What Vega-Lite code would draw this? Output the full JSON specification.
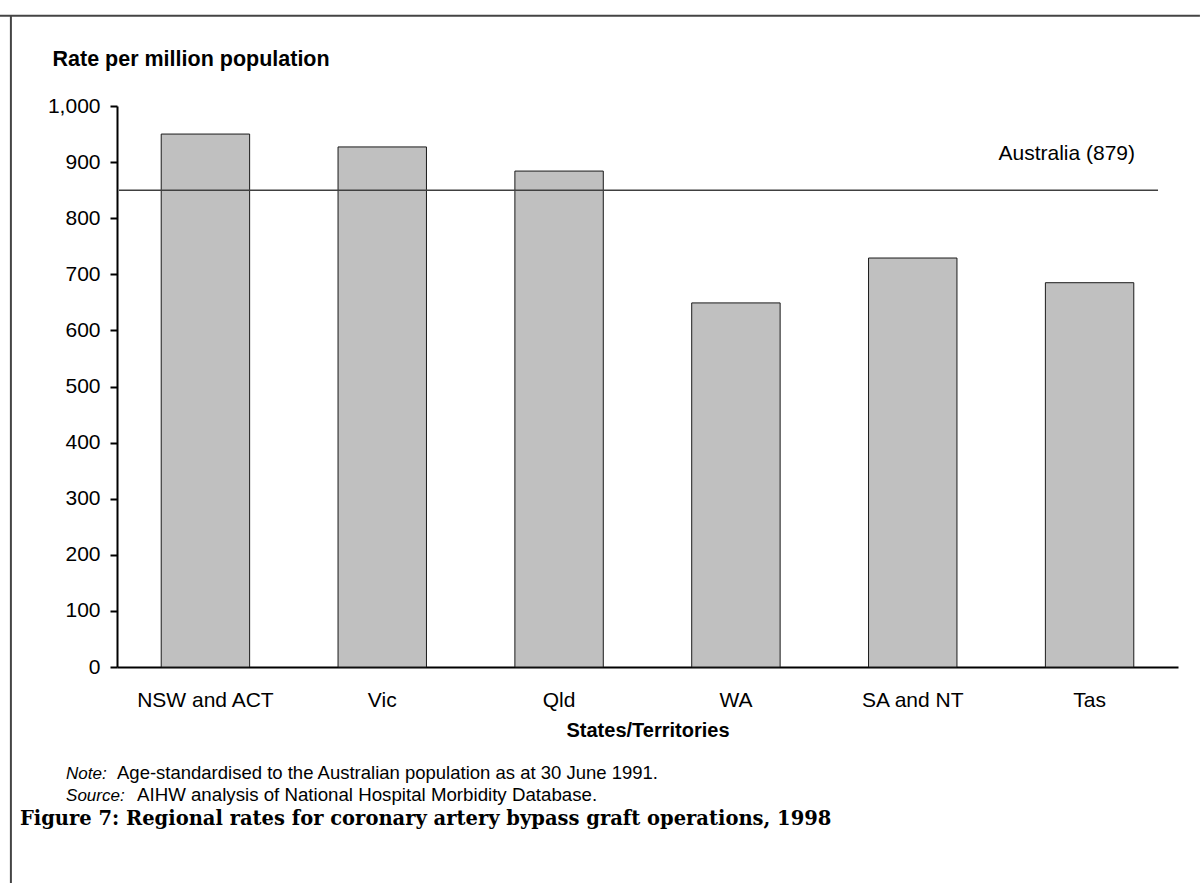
{
  "$schema": "https://vega.github.io/schema/vega-lite/v6.json",
  "width": 1061,
  "height": 561,
  "autosize": "none",
  "padding": {"left": 117, "top": 106, "right": 22, "bottom": 216},
  "background": "white",
  "config": {"view": {"stroke": null}, "font": "Liberation Sans"},
  "datasets": {
    "states": [
      {"state": "NSW and ACT", "rate": 950},
      {"state": "Vic", "rate": 927},
      {"state": "Qld", "rate": 884},
      {"state": "WA", "rate": 649},
      {"state": "SA and NT", "rate": 729},
      {"state": "Tas", "rate": 685}
    ],
    "national": [
      {"label": "Australia (879)", "rate": 850}
    ]
  },
  "resolve": {"scale": {"x": "independent"}},
  "layer": [
    {
      "data": {"name": "states"},
      "mark": {"type": "bar", "fill": "#c0c0c0", "stroke": "#1a1a1a", "strokeWidth": 1},
      "encoding": {
        "x": {
          "field": "state", "type": "nominal",
          "sort": ["NSW and ACT", "Vic", "Qld", "WA", "SA and NT", "Tas"],
          "scale": {"paddingInner": 0.5, "paddingOuter": 0.25},
          "axis": {
            "title": "States/Territories",
            "titleFont": "Liberation Sans", "titleFontSize": 20, "titleFontWeight": "bold", "titleColor": "#000",
            "titleBaseline": "alphabetic", "titleY": 69,
            "labelAngle": 0, "labelFontSize": 21, "labelColor": "#000", "labelPadding": 39, "labelBaseline": "alphabetic",
            "ticks": false, "tickSize": 0,
            "domainColor": "#000", "domainWidth": 2, "grid": false
          }
        },
        "y": {
          "field": "rate", "type": "quantitative",
          "scale": {"domain": [0, 1000], "nice": false, "zero": true},
          "axis": {
            "title": "Rate per million population",
            "titleAngle": 0, "titleAlign": "left", "titleBaseline": "alphabetic",
            "titleX": -65, "titleY": -41,
            "titleFontSize": 21.5, "titleFontWeight": "bold", "titleColor": "#000",
            "values": [0, 100, 200, 300, 400, 500, 600, 700, 800, 900, 1000],
            "format": ",d",
            "labelFontSize": 21, "labelColor": "#000", "labelPadding": 10,
            "tickSize": 7, "tickColor": "#000", "tickWidth": 2,
            "domainColor": "#000", "domainWidth": 2, "grid": false
          }
        }
      }
    },
    {
      "data": {"name": "national"},
      "mark": {"type": "rule", "color": "#404040", "strokeWidth": 1.5},
      "encoding": {
        "x": {"datum": 0.011, "type": "quantitative", "scale": {"domain": [0, 6], "nice": false, "zero": false}, "axis": null},
        "x2": {"datum": 5.887},
        "y": {"field": "rate", "type": "quantitative", "scale": {"domain": [0, 1000], "nice": false}}
      }
    },
    {
      "data": {"name": "national"},
      "mark": {"type": "text", "align": "right", "baseline": "alphabetic", "fontSize": 21, "color": "#000"},
      "encoding": {
        "x": {"datum": 5.757, "type": "quantitative", "scale": {"domain": [0, 6], "nice": false, "zero": false}, "axis": null},
        "y": {"datum": 903, "type": "quantitative", "scale": {"domain": [0, 1000], "nice": false}},
        "text": {"field": "label"}
      }
    },
    {
      "data": {"values": [{"lead": "Note:", "body": "Age-standardised to the Australian population as at 30 June 1991."}]},
      "layer": [
        {
          "mark": {"type": "text", "align": "left", "baseline": "alphabetic", "fontSize": 17, "fontStyle": "italic", "color": "#000", "clip": false},
          "encoding": {
            "x": {"datum": -0.288, "type": "quantitative", "scale": {"domain": [0, 6], "nice": false, "zero": false}, "axis": null},
            "y": {"datum": -199, "type": "quantitative", "scale": {"domain": [0, 1000], "nice": false}},
            "text": {"field": "lead"}
          }
        },
        {
          "mark": {"type": "text", "align": "left", "baseline": "alphabetic", "fontSize": 18.5, "color": "#000", "clip": false},
          "encoding": {
            "x": {"datum": 0, "type": "quantitative", "scale": {"domain": [0, 6], "nice": false, "zero": false}, "axis": null},
            "y": {"datum": -199, "type": "quantitative", "scale": {"domain": [0, 1000], "nice": false}},
            "text": {"field": "body"}
          }
        }
      ],
      "resolve": {"scale": {"x": "independent"}}
    },
    {
      "data": {"values": [{"lead": "Source:", "body": "AIHW analysis of National Hospital Morbidity Database."}]},
      "layer": [
        {
          "mark": {"type": "text", "align": "left", "baseline": "alphabetic", "fontSize": 17, "fontStyle": "italic", "color": "#000", "clip": false},
          "encoding": {
            "x": {"datum": -0.288, "type": "quantitative", "scale": {"domain": [0, 6], "nice": false, "zero": false}, "axis": null},
            "y": {"datum": -238, "type": "quantitative", "scale": {"domain": [0, 1000], "nice": false}},
            "text": {"field": "lead"}
          }
        },
        {
          "mark": {"type": "text", "align": "left", "baseline": "alphabetic", "fontSize": 18.7, "color": "#000", "clip": false},
          "encoding": {
            "x": {"datum": 0.113, "type": "quantitative", "scale": {"domain": [0, 6], "nice": false, "zero": false}, "axis": null},
            "y": {"datum": -238, "type": "quantitative", "scale": {"domain": [0, 1000], "nice": false}},
            "text": {"field": "body"}
          }
        }
      ],
      "resolve": {"scale": {"x": "independent"}}
    },
    {
      "data": {"values": [{"caption": "Figure 7: Regional rates for coronary artery bypass graft operations, 1998"}]},
      "mark": {"type": "text", "align": "left", "baseline": "alphabetic", "font": "DejaVu Serif", "fontWeight": "bold", "fontSize": 19.5, "color": "#000", "clip": false},
      "encoding": {
        "x": {"datum": -0.549, "type": "quantitative", "scale": {"domain": [0, 6], "nice": false, "zero": false}, "axis": null},
        "y": {"datum": -281, "type": "quantitative", "scale": {"domain": [0, 1000], "nice": false}},
        "text": {"field": "caption"}
      }
    },
    {
      "data": {"values": [{"edge": "top"}]},
      "mark": {"type": "rule", "color": "#444", "strokeWidth": 2, "clip": false},
      "encoding": {
        "x": {"datum": -0.662, "type": "quantitative", "scale": {"domain": [0, 6], "nice": false, "zero": false}, "axis": null},
        "x2": {"datum": 6.124},
        "y": {"datum": 1161, "type": "quantitative", "scale": {"domain": [0, 1000], "nice": false}}
      }
    },
    {
      "data": {"values": [{"edge": "left"}]},
      "mark": {"type": "rule", "color": "#444", "strokeWidth": 2, "clip": false},
      "encoding": {
        "x": {"datum": -0.6, "type": "quantitative", "scale": {"domain": [0, 6], "nice": false, "zero": false}, "axis": null},
        "y": {"datum": 1161, "type": "quantitative", "scale": {"domain": [0, 1000], "nice": false}},
        "y2": {"datum": -400}
      }
    }
  ]
}
